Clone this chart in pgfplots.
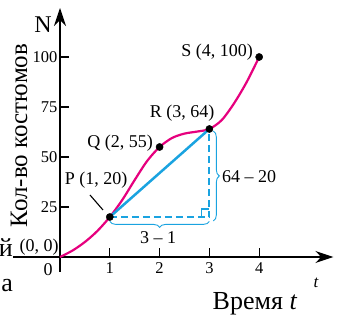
\documentclass[border=0pt]{standalone}
\usepackage{pgfplots}
\pgfplotsset{compat=1.18}
\usepackage{fontspec}
\setmainfont{Liberation Serif}
\usetikzlibrary{arrows.meta,decorations.pathreplacing}
\definecolor{mag}{HTML}{E6007E}
\definecolor{cy}{HTML}{1AA3E0}
\begin{document}
\begin{tikzpicture}[x=1pt,y=1pt]
\useasboundingbox (0,0) rectangle (339,328);
\begin{axis}[at={(60pt,71pt)}, anchor=origin, scale only axis,
  width=320.4pt, height=264pt,
  xmin=-0.945, xmax=5.49, ymin=-7.5, ymax=124.5,
  axis lines=middle, clip=false,
  axis line style={line width=1.6pt, -{Stealth[length=18pt,width=12pt]}},
  xtick={1,2,3,4}, ytick={25,50,75,100},
  tick align=inside, major tick length=9pt,
  tick style={line width=1.2pt, black},
  /pgf/number format/assume math mode=true,
  ticklabel style={font=\fontsize{16.5}{19}\selectfont},
  xticklabel style={yshift=-2pt},
  yticklabel style={xshift=1pt},
]
\addplot[mag, line width=2.2pt, smooth] coordinates {
 (0,0) (0.25,3.2) (0.5,7.5) (0.75,13) (1,20) (1.25,28.5) (1.5,38.5)
 (1.75,48) (2,55) (2.25,59.5) (2.5,61.7) (2.75,62.7) (3,64)
 (3.25,68.5) (3.5,77) (3.75,87.5) (4,100)};
\addplot[cy, line width=2.5pt] coordinates {(1,20) (3,64)};
\addplot[cy, line width=2.2pt, dash pattern=on 7pt off 4pt] coordinates {(1,20) (3,20) (3,64)};
\addplot[cy, line width=1.5pt] coordinates {(2.84,20) (2.84,24) (3,24)};
\draw[cy, line width=0.9pt, decorate, decoration={brace, amplitude=6pt, mirror}]
  (axis cs:1,17.8) -- (axis cs:3,17.8);
\draw[cy, line width=0.9pt, decorate, decoration={brace, amplitude=6pt}]
  (axis cs:3.08,63) -- (axis cs:3.08,18);
\addplot[only marks, mark=*, mark size=3.6pt, black] coordinates {(1,20) (2,55) (3,64) (4,100)};
\end{axis}
\begin{scope}[every node/.style={inner sep=0pt, font=\fontsize{18}{21}\selectfont}]
\node[anchor=east] at (253,276) {S (4, 100)};
\node at (182,215) {R (3, 64)};
\node[anchor=east] at (153,185) {Q (2, 55)};
\node at (96,148) {P (1, 20)};
\draw[line width=1.1pt] (90,133) -- (103,118);
\node at (39,81) {(0, 0)};
\node[font=\fontsize{26}{28}\selectfont, anchor=base east] at (13,71) {й};
\node[font=\fontsize{26}{28}\selectfont, anchor=base east] at (13,36) {а};
\node at (48,58) {0};
\node at (158,90) {3 – 1};
\node[anchor=west] at (222,151) {64 – 20};
\node[font=\fontsize{24}{26}\selectfont] at (43,303) {N};
\node[font=\fontsize{17}{19}\selectfont\itshape] at (316,45) {t};
\node[font=\fontsize{26}{30}\selectfont, anchor=base] at (255,18) {Время \textit{t}};
\node[font=\fontsize{25}{30}\selectfont, rotate=90, anchor=base] at (27,192.5) {Кол-во костюмов};
\end{scope}
\end{tikzpicture}
\end{document}
